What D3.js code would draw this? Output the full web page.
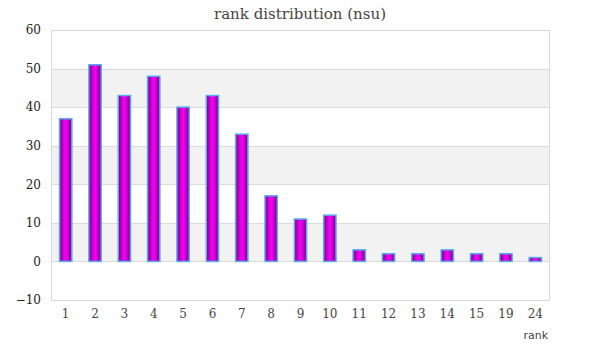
<!DOCTYPE html>
<html><head><meta charset="utf-8">
<script src="https://cdn.jsdelivr.net/npm/d3@7"></script>
<style>body{margin:0;background:#fff}svg{display:block}</style>
</head><body>
<svg id="chart" width="600" height="360"></svg>
<script>
const categories = ["1","2","3","4","5","6","7","8","9","10","11","12","13","14","15","19","24"];
const values = [37,51,43,48,40,43,33,17,11,12,3,2,2,3,2,2,1];
const yTicks = [-10,0,10,20,30,40,50,60];
const title = "rank distribution (nsu)";
const xTitle = "rank";

const svg = d3.select("#chart");
const m = {left:51, right:550, top:30, bottom:300};
const x = d3.scaleBand().domain(categories).range([m.left, m.right]);
const y = d3.scaleLinear().domain([-10,60]).range([m.bottom, m.top]);

const defs = svg.append("defs");
const g = defs.append("linearGradient").attr("id","barGrad").attr("x1","0%").attr("x2","100%").attr("y1","0%").attr("y2","0%");
g.append("stop").attr("offset","0%").attr("stop-color","#7a0088");
g.append("stop").attr("offset","45%").attr("stop-color","#f000f0");
g.append("stop").attr("offset","55%").attr("stop-color","#f000f0");
g.append("stop").attr("offset","100%").attr("stop-color","#7a0088");

// bands
for (let i = 0; i < yTicks.length - 1; i++) {
  if (i % 2 === 1) {
    svg.append("rect").attr("x", m.left).attr("width", m.right - m.left)
      .attr("y", y(yTicks[i+1])).attr("height", y(yTicks[i]) - y(yTicks[i+1]))
      .attr("fill", "#f2f2f2");
  }
}
// gridlines
svg.append("g").selectAll("line").data(yTicks).join("line")
  .attr("x1", m.left).attr("x2", m.right)
  .attr("y1", d => Math.round(y(d)) + 0.5).attr("y2", d => Math.round(y(d)) + 0.5)
  .attr("stroke", "#dcdcdc").attr("stroke-width", 1);
// border
svg.append("rect").attr("x", m.left + 0.5).attr("y", m.top + 0.5)
  .attr("width", m.right - m.left - 1).attr("height", m.bottom - m.top)
  .attr("fill", "none").attr("stroke", "#d8d8d8").attr("stroke-width", 1);

// y axis labels
const yAxis = d3.axisLeft(y).tickValues(yTicks).tickSize(0).tickPadding(10);
const ya = svg.append("g").attr("transform", `translate(${m.left},0)`).call(yAxis);
ya.select(".domain").remove();
ya.selectAll("text").attr("font-family", "'DejaVu Serif', Georgia, serif").attr("font-size", 12).attr("fill", "#222");

// x axis labels
const xAxis = d3.axisBottom(x).tickSize(0).tickPadding(9);
const xa = svg.append("g").attr("transform", `translate(0,${m.bottom})`).call(xAxis);
xa.select(".domain").remove();
xa.selectAll("text").attr("font-family", "'DejaVu Serif', Georgia, serif").attr("font-size", 12).attr("fill", "#444");

// bars
const bw = x.bandwidth() * 0.42;
svg.append("g").selectAll("rect").data(values).join("rect")
  .attr("x", (d, i) => x(categories[i]) + x.bandwidth() / 2 - bw / 2)
  .attr("y", d => y(d))
  .attr("width", bw)
  .attr("height", d => y(0) - y(d))
  .attr("fill", "url(#barGrad)")
  .attr("stroke", "#5aaaf0").attr("stroke-width", 1.5);

// title
svg.append("text").attr("x", 300).attr("y", 19).attr("text-anchor", "middle")
  .attr("font-family", "'DejaVu Serif', Georgia, serif").attr("font-size", 15).attr("fill", "#444")
  .text(title);
// x title
svg.append("text").attr("x", 548).attr("y", 339).attr("text-anchor", "end")
  .attr("font-family", "'DejaVu Sans', sans-serif").attr("font-size", 11).attr("fill", "#444")
  .text(xTitle);
</script>
</body></html>
